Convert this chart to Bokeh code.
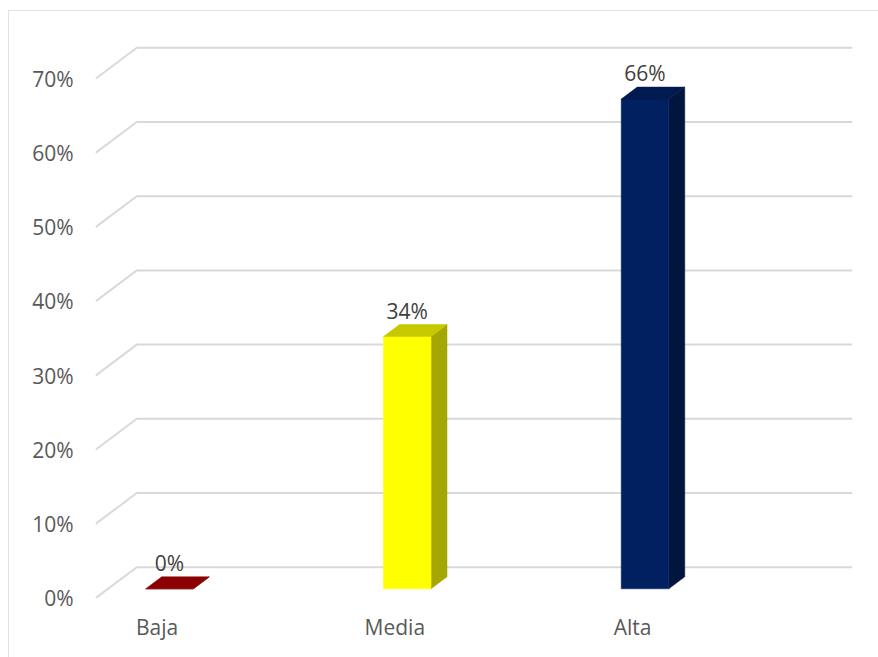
from bokeh.plotting import figure
from bokeh.models import FixedTicker, NumeralTickFormatter, ColumnDataSource
from bokeh.core.properties import value
from bokeh.embed import file_html
from bokeh.resources import INLINE

# ---------------- data ----------------
categories = ["Baja", "Media", "Alta"]
shares = [0.00, 0.34, 0.66]
labels = ["0%", "34%", "66%"]
front_colors = ["#8B0000", "#FFFF00", "#002060"]
side_colors = ["#5E0000", "#A6A600", "#00163F"]
top_colors = ["#8B0000", "#C8C800", "#001A4F"]
y_ticks = [0.0, 0.1, 0.2, 0.3, 0.4, 0.5, 0.6, 0.7]

# ---------------- layout (pixels) ----------------
OFF_X, OFF_Y = 8, 10                 # position of the chart box on the page
W, H = 870, 647
PX_X = 237.75        # pixels per category step
PX_Y = 742.0         # pixels per 100 %
FR_L, FR_R, FR_T, FR_B = 87, 844, 10, 588   # frame in figure pixels
ORIGIN_X, ORIGIN_Y = 148.6, 587.7           # first category / 0 % on front plane (figure px)

x_start = (FR_L - ORIGIN_X) / PX_X
x_end = (FR_R - ORIGIN_X) / PX_X
y_start = (ORIGIN_Y - FR_B) / PX_Y
y_end = (ORIGIN_Y - FR_T) / PX_Y

WX, WY = 41.3 / PX_X, 31.0 / PX_Y    # wall depth
BX, BY = 12.4 / PX_X, 9.4 / PX_Y     # bar front offset from front plane
DX, DY = 16.0 / PX_X, 12.0 / PX_Y    # bar depth
BW = 0.2                             # bar width

FONT = "Open Sans"
FS = "21px"

p = figure(width=W, height=H, output_backend="svg", toolbar_location=None,
           x_range=(x_start, x_end), y_range=(y_start, y_end),
           min_border_left=FR_L, min_border_right=W - FR_R,
           min_border_top=FR_T, min_border_bottom=H - FR_B)
p.styles = {"outline": "1px solid #d9d9d9", "outline-offset": "-1px",
            "margin-left": f"{OFF_X}px", "margin-top": f"{OFF_Y}px"}
p.outline_line_color = None
p.xgrid.visible = False
p.ygrid.visible = False
p.background_fill_color = "white"
p.border_fill_color = "white"

# perspective gridlines
gx, gy = [], []
for t in y_ticks:
    gx.append([x_start, x_start + WX, x_end])
    gy.append([t, t + WY, t + WY])
p.multi_line(gx, gy, line_color="#d9d9d9", line_width=2)

# bars
fx, fy, sx, sy, tx, ty = [], [], [], [], [], []
for i, v in enumerate(shares):
    l = i + BX - BW / 2
    r = i + BX + BW / 2
    b = BY
    t = v + BY
    fx.append([l, r, r, l]); fy.append([b, b, t, t])
    sx.append([r, r + DX, r + DX, r]); sy.append([b, b + DY, t + DY, t])
    tx.append([l, r, r + DX, l + DX]); ty.append([t, t, t + DY, t + DY])

p.patches(sx, sy, fill_color=side_colors, line_color=side_colors, line_width=0.5)
p.patches(fx, fy, fill_color=front_colors, line_color=front_colors, line_width=0.5)
p.patches(tx, ty, fill_color=top_colors, line_color=top_colors, line_width=0.5)

# data labels
src = ColumnDataSource(dict(x=[i + BX for i in range(len(shares))],
                            y=[v + BY for v in shares], t=labels))
p.text("x", "y", text="t", source=src, text_align="center", text_baseline="middle",
       y_offset=-26, text_font=value(FONT), text_font_size=FS, text_color="#404040")

# axes
p.yaxis.ticker = FixedTicker(ticks=y_ticks)
p.yaxis.formatter = NumeralTickFormatter(format="0%")
p.yaxis.axis_line_color = None
p.yaxis.major_tick_line_color = None
p.yaxis.minor_tick_line_color = None
p.yaxis.major_tick_out = 0
p.yaxis.major_tick_in = 0
p.yaxis.major_label_standoff = 22
p.yaxis.major_label_text_font = FONT
p.yaxis.major_label_text_font_size = FS
p.yaxis.major_label_text_color = "#595959"

p.xaxis.ticker = FixedTicker(ticks=list(range(len(categories))))
p.xaxis.major_label_overrides = {i: c for i, c in enumerate(categories)}
p.xaxis.axis_line_color = None
p.xaxis.major_tick_line_color = None
p.xaxis.minor_tick_line_color = None
p.xaxis.major_tick_out = 0
p.xaxis.major_tick_in = 0
p.xaxis.major_label_standoff = 14
p.xaxis.major_label_text_font = FONT
p.xaxis.major_label_text_font_size = FS
p.xaxis.major_label_text_color = "#595959"

open("out.html", "w").write(file_html(p, INLINE))
